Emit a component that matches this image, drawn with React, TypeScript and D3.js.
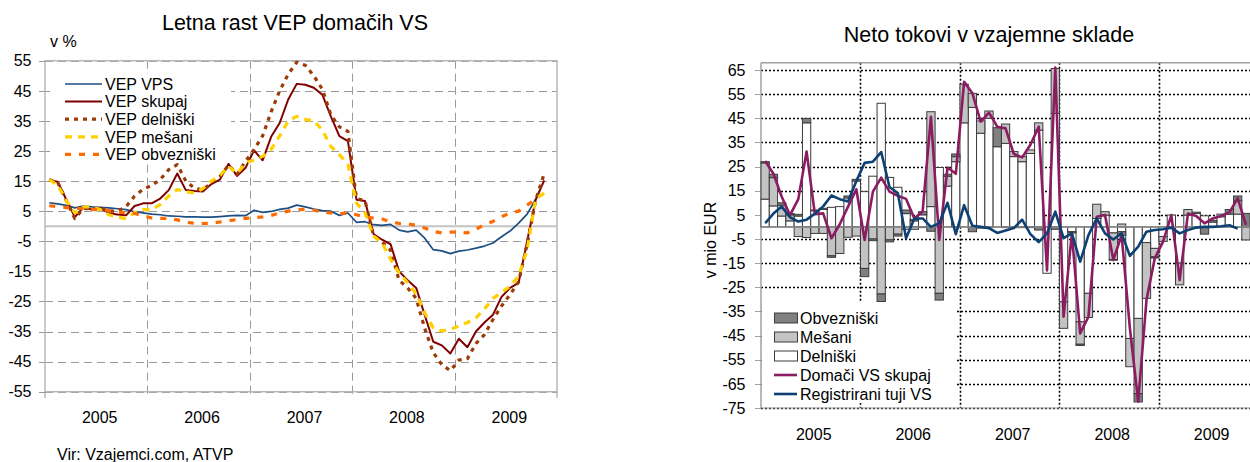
import React from 'react';
import * as d3 from 'd3';

// ---------- categories ----------
const YEARS = ['2005', '2006', '2007', '2008', '2009'];
const MONTH_NUMS = ['01', '02', '03', '04', '05', '06', '07', '08', '09', '10', '11', '12'];
const MONTHS = YEARS.flatMap((y) => MONTH_NUMS.map((m) => `${y}-${m}`));

const LEFT_TICKS = [-55, -45, -35, -25, -15, -5, 5, 15, 25, 35, 45, 55];
const RIGHT_TICKS = [-75, -65, -55, -45, -35, -25, -15, -5, 5, 15, 25, 35, 45, 55, 65];

// ---------- left chart: Letna rast VEP domačih VS (v %) ----------
const VEP_VPS = [7.8, 7.4, 6.9, 6.1, 6.7, 6.4, 6.3, 6.1, 5.8, 5.5, 4.8, 4.4, 4.0, 3.8, 3.4, 3.3, 3.1, 3.1, 3.0, 3.0,
  3.2, 3.4, 3.6, 3.5, 5.3, 4.6, 4.9, 5.6, 6.0, 7.0, 6.4, 5.7, 5.2, 5.0, 3.6, 4.4, 1.3, 1.5, 0.5, 0.3,
  0.6, -1.3, -1.9, -1.3, -4.0, -7.8, -8.2, -9.1, -8.3, -7.9, -7.3, -6.6, -5.6, -3.5, -1.6, 1.0, 4.0, 9.0];
const VEP_SKUPAJ = [15.2, 14.8, 8.8, 3.0, 6.3, 5.5, 6.0, 4.3, 3.9, 3.6, 6.7, 7.6, 7.6, 9.2, 12.0, 17.5, 12.0, 11.7, 11.5, 14.0,
  15.5, 20.7, 16.7, 19.4, 25.2, 21.9, 29.7, 34.3, 42.1, 47.3, 47.0, 46.0, 43.7, 36.5, 29.9, 28.3, 8.8, 8.4, -2.6, -4.5,
  -6.0, -15.0, -18.0, -20.5, -29.5, -38.4, -39.6, -42.3, -37.4, -40.2, -35.0, -32.0, -29.4, -23.5, -20.5, -18.8, -5.0, 8.8, 15.2];
const VEP_DELNISKI = [15.5, 14.5, 8.5, 2.5, 6.0, 5.5, 6.0, 5.0, 5.0, 6.5, 10.0, 12.3, 13.5, 15.5, 18.8, 20.5, 15.0, 12.7, 12.0, 14.5,
  16.5, 20.3, 17.2, 21.6, 25.5, 30.0, 38.0, 45.0, 50.5, 54.5, 53.5, 50.0, 45.5, 37.0, 33.0, 31.5, 9.2, 8.5, -3.1, -5.2,
  -8.0, -18.0, -20.5, -24.0, -34.0, -42.0, -46.0, -48.0, -44.5, -44.0, -39.0, -36.0, -31.0, -26.5, -22.7, -18.5, -6.0, 8.6, 17.5];
const VEP_MESANI = [15.5, 13.5, 8.5, 4.4, 6.4, 6.4, 5.5, 3.8, 3.0, 2.5, 4.5, 5.5, 5.5, 7.2, 10.0, 12.2, 11.5, 11.0, 12.5, 15.0,
  16.8, 19.9, 17.5, 21.0, 22.0, 23.2, 25.5, 30.0, 35.0, 36.5, 35.5, 35.0, 32.0, 26.5, 23.8, 20.5, 7.7, 4.4, -3.3, -5.5,
  -11.0, -15.5, -18.8, -22.5, -28.8, -33.8, -34.8, -34.3, -33.2, -32.0, -30.5, -27.5, -24.0, -22.0, -20.0, -16.6, -7.8, 9.0, 11.0];
const VEP_OBVEZNISKI = [6.8, 6.5, 6.2, 6.0, 5.8, 5.6, 5.4, 5.2, 4.7, 4.4, 4.2, 3.5, 2.7, 2.6, 2.6, 2.1, 1.3, 1.0, 0.9, 1.0,
  1.4, 1.8, 2.2, 2.6, 2.8, 3.1, 3.6, 4.4, 5.0, 5.5, 5.6, 5.3, 4.7, 4.4, 4.2, 4.4, 3.8, 3.0, 2.7, 2.4,
  1.5, 0.9, 0.8, 0.3, -0.6, -1.8, -2.2, -2.0, -2.0, -2.2, -1.0, 0.5, 1.6, 3.2, 4.3, 5.0, 7.0, 9.0];

// ---------- right chart: Neto tokovi v vzajemne sklade (v mio EUR) ----------
const NT_DELNISKI = [11.5, 8.7, 4.5, 2.5, 4.5, 43.1, 6.7, 7.2, 8.1, 8.4, 12.0, 19.0, 14.6, 21.0, 51.2, 20.5, 16.4, 5.5, 2.5, 5.0,
  8.4, 24.6, 16.9, 27.0, 43.1, 49.5, 38.8, 45.0, 33.2, 34.6, 29.1, 27.0, 30.4, 40.1, -19.2, 47.0, -31.0, -2.0, -39.3, -27.5,
  3.5, 4.9, -2.5, -2.0, -46.2, -37.9, -6.5, -8.9, -4.0, 4.9, -15.0, 4.9, 5.6, 4.6, 2.0, 4.2, 5.3, 5.3, 0];
const NT_MESANI = [15.0, 11.7, 4.5, 2.5, -4.0, -4.4, -2.7, -2.7, -12.0, -11.0, -4.3, -3.8, -17.2, -5.0, -27.8, -5.4, -3.0, -1.0, -1.0, -0.3,
  39.3, -27.5, 4.1, 2.1, 16.0, 5.8, 5.1, 3.0, 0, 8.0, 2.1, 2.1, 1.5, 3.0, 0, 18.6, -11.0, 0, -9.3, -10.0,
  5.9, 1.4, -11.0, 1.2, -11.7, -31.1, -23.1, -3.5, -2.0, 0, -9.0, 2.3, 0.5, 0, 0, 1.1, 0, 5.5, -5.4];
const NT_OBVEZNISKI = [0.5, 1.4, 1.0, 0.5, 0.7, 1.8, 0.3, 0.5, -0.6, 0, 0.8, 0.7, -3.4, -0.7, -3.1, -0.8, -0.8, 1.5, 0.6, 1.3,
  -1.8, -2.8, 0.8, 1.1, 0, -2.0, -0.5, -0.3, 7.9, -0.3, -0.3, -0.3, -0.3, -1.3, 0, -1.0, 0, -0.5, -0.5, 0,
  0, 0, -0.3, -1.5, 0, -3.5, 0, -0.5, 0, 0, 0, 0, 0, -3.0, 0.7, 0, 1.9, 2.0, 5.6];
const NT_DOMACI = [27.3, 22.0, 12.5, 4.9, 11.5, 31.2, 5.3, 5.6, -4.7, 1.1, 8.4, 15.6, -5.4, 14.6, 20.4, 14.6, 12.9, 11.6, 3.5, 6.5,
  45.6, -5.4, 24.6, 22.0, 60.1, 55.3, 43.6, 47.3, 41.5, 40.8, 30.2, 28.8, 34.0, 41.5, -18.0, 66.0, -37.2, -2.7, -44.1, -37.2,
  4.2, 4.9, -13.7, -3.4, -42.0, -72.4, -30.3, -13.0, -6.1, 4.9, -22.0, 5.5, 4.5, 1.5, 3.5, 4.5, 6.0, 11.8, 0.8];
const NT_TUJI = [1.5, 5.5, 8.4, 4.0, 2.2, 3.0, 5.5, 8.5, 13.0, 11.5, 10.5, 19.0, 26.5, 27.0, 31.0, 16.5, 14.0, -4.7, 3.5, 3.5,
  0.0, 1.5, 10.0, -3.0, 9.0, 0.5, 0.0, -0.5, -2.5, -1.5, -0.5, 3.0, -3.0, -6.3, -2.7, 6.3, -4.7, -2.7, -14.4, -3.4,
  3.5, -2.7, -5.2, -2.7, -12.0, -8.2, -2.0, -1.3, -1.0, -0.3, -2.7, -1.3, -0.3, 0.0, 0.0, 0.3, 0.7, -0.7];

const FONT = '"Liberation Sans", Arial, Helvetica, sans-serif';

const LEFT_SERIES = [
  { name: 'VEP VPS', data: VEP_VPS, color: '#1d4f84', width: 1.7, dash: undefined as string | undefined },
  { name: 'VEP skupaj', data: VEP_SKUPAJ, color: '#800000', width: 2, dash: undefined },
  { name: 'VEP delniški', data: VEP_DELNISKI, color: '#9c3a08', width: 3.2, dash: '4,5' },
  { name: 'VEP mešani', data: VEP_MESANI, color: '#ffd000', width: 3.2, dash: '7,6' },
  { name: 'VEP obvezniški', data: VEP_OBVEZNISKI, color: '#ff6a00', width: 3.2, dash: '6,8' },
];

const BAR_KEYS = ['Delniški', 'Mešani', 'Obvezniški'];
const BAR_FILL: Record<string, string> = { 'Delniški': '#ffffff', 'Mešani': '#c3c3c3', 'Obvezniški': '#808080' };

const snap = (v: number) => Math.round(v) + 0.5;

export default function App() {
  // ----- left scales -----
  const xL = d3.scaleBand<string>().domain(MONTHS).range([45, 557]).padding(0);
  const yL = d3.scaleLinear().domain([-55, 55]).range([391.7, 60.7]);
  const cxL = (i: number) => (xL(MONTHS[i]) as number) + xL.bandwidth() / 2;
  const lineL = d3.line<number>().x((_, i) => cxL(i)).y((d) => yL(d));
  const yearBoundsL = YEARS.map((y) => xL(`${y}-01`) as number).concat([557]);

  // ----- right scales -----
  const xR = d3.scaleBand<string>().domain(MONTHS).range([761, 1258.4]).padding(0);
  const yR = d3.scaleLinear().domain([-75, 68]).range([408, 62.7]);
  const cxR = (i: number) => (xR(MONTHS[i]) as number) + xR.bandwidth() / 2;
  const lineR = d3.line<number>().x((_, i) => cxR(i)).y((d) => yR(d));
  const yearBoundsR = YEARS.map((y) => xR(`${y}-01`) as number);

  const rows = NT_DELNISKI.map((_, i) => ({
    month: MONTHS[i],
    'Delniški': NT_DELNISKI[i],
    'Mešani': NT_MESANI[i],
    'Obvezniški': NT_OBVEZNISKI[i],
  }));
  const stacked = d3.stack<any>().keys(BAR_KEYS).offset(d3.stackOffsetDiverging)(rows);

  const leftLegendY = [84, 101.6, 119.2, 136.8, 154.4];

  return (
    <svg width={1250} height={462} style={{ position: 'absolute', left: 0, top: 0, background: '#fff' }}
      fontFamily={FONT}>
      <rect x={0} y={0} width={1250} height={462} fill="#fff" />

      {/* ================= LEFT CHART ================= */}
      <text x={295} y={30} fontSize={21.5} textAnchor="middle" fill="#000">Letna rast VEP domačih VS</text>
      <text x={50} y={46.5} fontSize={16} fill="#000">v %</text>

      {LEFT_TICKS.map((t) => (
        <line key={'lg' + t} x1={45} x2={557} y1={snap(yL(t))} y2={snap(yL(t))} stroke="#9a9a9a" strokeWidth={1}
          strokeDasharray="8,5" />
      ))}
      {yearBoundsL.slice(1, 5).map((x, k) => (
        <line key={'lv' + k} x1={snap(x)} x2={snap(x)} y1={60.7} y2={398} stroke="#9a9a9a" strokeWidth={1}
          strokeDasharray="8,5" />
      ))}
      <rect x={45} y={60.7} width={512} height={331} fill="none" stroke="#b8b8b8" strokeWidth={1.5} />
      <line x1={45} x2={557} y1={yL(0)} y2={yL(0)} stroke="#c4c4c4" strokeWidth={2} />
      {LEFT_TICKS.map((t) => (
        <g key={'lt' + t}>
          <line x1={39} x2={45} y1={snap(yL(t))} y2={snap(yL(t))} stroke="#9a9a9a" strokeWidth={1} />
          <text x={31.5} y={yL(t)} dy="0.36em" fontSize={16} textAnchor="end" fill="#000">{t}</text>
        </g>
      ))}
      {[45, 557].map((x) => (
        <line key={'lbt' + x} x1={x} x2={x} y1={391.7} y2={398} stroke="#9a9a9a" strokeWidth={1} />
      ))}
      {YEARS.map((y, k) => (
        <text key={'ly' + y} x={(yearBoundsL[k] + yearBoundsL[k + 1]) / 2 + 3.5} y={422.5} fontSize={16}
          textAnchor="middle" fill="#000">{y}</text>
      ))}

      {LEFT_SERIES.map((s) => (
        <path key={s.name} d={lineL(s.data) || ''} fill="none" stroke={s.color} strokeWidth={s.width}
          strokeDasharray={s.dash} strokeLinejoin="round" />
      ))}

      <rect x={50} y={74} width={181} height={89} fill="#fff" />
      {LEFT_SERIES.map((s, k) => (
        <g key={'lleg' + s.name}>
          <line x1={65} x2={102} y1={leftLegendY[k]} y2={leftLegendY[k]} stroke={s.color}
            strokeWidth={s.width} strokeDasharray={s.dash} />
          <text x={105} y={leftLegendY[k]} dy="0.36em" fontSize={16} fill="#000">{s.name}</text>
        </g>
      ))}

      <text x={57} y={460} fontSize={16} fill="#000">Vir: Vzajemci.com, ATVP</text>

      {/* ================= RIGHT CHART ================= */}
      <text x={989} y={42} fontSize={21.5} textAnchor="middle" fill="#000">Neto tokovi v vzajemne sklade</text>
      <text transform={`translate(710,240) rotate(-90)`} fontSize={16} textAnchor="middle" dy="0.36em"
        fill="#000">v mio EUR</text>

      {RIGHT_TICKS.map((t) => (
        <line key={'rg' + t} x1={761} x2={1258} y1={snap(yR(t))} y2={snap(yR(t))} stroke="#000" strokeWidth={1.6}
          strokeDasharray="2,2" />
      ))}
      {yearBoundsR.slice(1).map((x, k) => (
        <line key={'rv' + k} x1={snap(x)} x2={snap(x)} y1={62.7} y2={408} stroke="#000" strokeWidth={1.6}
          strokeDasharray="2,2" />
      ))}
      <line x1={761} x2={1258} y1={62.7} y2={62.7} stroke="#a0a0a0" strokeWidth={1.5} />
      <line x1={761} x2={761} y1={62.7} y2={408} stroke="#a0a0a0" strokeWidth={1.5} />
      <line x1={761} x2={1258} y1={408} y2={408} stroke="#a0a0a0" strokeWidth={1} />

      {RIGHT_TICKS.map((t) => (
        <g key={'rt' + t}>
          <line x1={755} x2={761} y1={snap(yR(t))} y2={snap(yR(t))} stroke="#a0a0a0" strokeWidth={1} />
          <text x={745.5} y={yR(t)} dy="0.36em" fontSize={16} textAnchor="end" fill="#000">{t}</text>
        </g>
      ))}
      {YEARS.map((y) => (
        <text key={'ry' + y} x={(xR(`${y}-01`) as number) + xR.bandwidth() * 6 + 3} y={440} fontSize={16}
          textAnchor="middle" fill="#000">{y}</text>
      ))}

      {stacked.map((layer) => (
        <g key={'bar' + layer.key} fill={BAR_FILL[layer.key]} stroke="#3c3c3c" strokeWidth={1}>
          {layer.map((d, i) => {
            const v0 = d[0];
            const v1 = d[1];
            if (Math.abs(v1 - v0) < 0.01) return null;
            const yTop = yR(Math.max(v0, v1));
            const yBot = yR(Math.min(v0, v1));
            return <rect key={i} x={xR(MONTHS[i]) as number} y={yTop} width={xR.bandwidth()} height={yBot - yTop} />;
          })}
        </g>
      ))}
      <line x1={761} x2={1258} y1={yR(0)} y2={yR(0)} stroke="#8c8c8c" strokeWidth={1.5} />

      <path d={lineR(NT_DOMACI) || ''} fill="none" stroke="#8b1c62" strokeWidth={2.6} strokeLinejoin="round" />
      <path d={lineR(NT_TUJI) || ''} fill="none" stroke="#0e4173" strokeWidth={2.6} strokeLinejoin="round" />

      <rect x={762} y={302} width={195} height={101} fill="#fff" />
      {['Obvezniški', 'Mešani', 'Delniški'].map((k, j) => {
        const cy = 318 + j * 19;
        return (
          <g key={'rleg' + k}>
            <rect x={774.5} y={cy - 5} width={23} height={10} fill={BAR_FILL[k]} stroke="#3c3c3c" strokeWidth={1} />
            <text x={800} y={cy} dy="0.36em" fontSize={16} fill="#000">{k}</text>
          </g>
        );
      })}
      <line x1={774} x2={797} y1={375} y2={375} stroke="#8b1c62" strokeWidth={2.6} />
      <text x={800} y={375} dy="0.36em" fontSize={16} fill="#000">Domači VS skupaj</text>
      <line x1={774} x2={797} y1={394} y2={394} stroke="#0e4173" strokeWidth={2.6} />
      <text x={800} y={394} dy="0.36em" fontSize={16} fill="#000">Registrirani tuji VS</text>
    </svg>
  );
}
